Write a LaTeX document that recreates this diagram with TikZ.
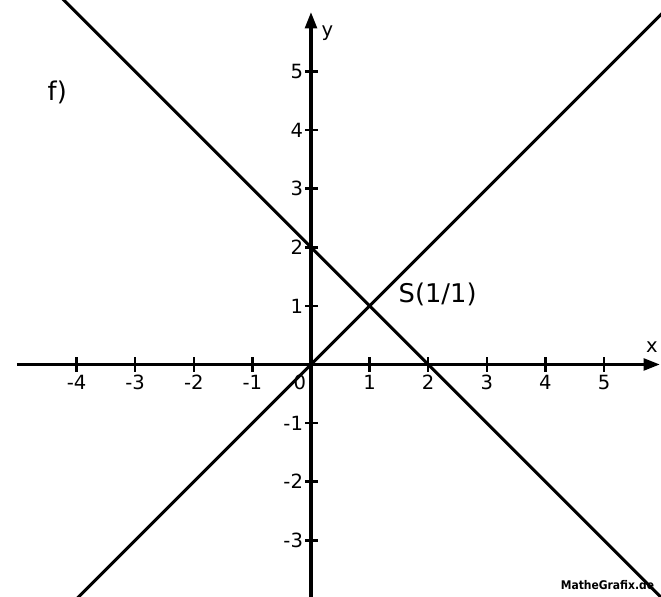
\documentclass[tikz,border=0pt]{standalone}
\usepackage{fontspec}
\setmainfont{DejaVu Sans}
\newfontfamily\condbold{DejaVu Sans Condensed Bold}
\usetikzlibrary{arrows.meta}
\begin{document}
\begin{tikzpicture}[
  axisline/.style={line width=1.6pt,-{Triangle[length=0.28cm,width=0.2cm]}},
  graphline/.style={line width=1.45pt},
  tickmark/.style={line width=1.2pt},
  ticklabel/.style={font=\fontsize{9.5}{11}\selectfont,inner sep=0pt},
  biglabel/.style={font=\fontsize{12.5}{14}\selectfont,inner sep=0pt}
]
\useasboundingbox (-5.307,-3.968) rectangle (5.973,6.22);
\begin{scope}
\clip (-5.307,-3.968) rectangle (5.973,6.22);
% graphs
\coordinate (g1a) at (-4.2,-4.2);
\coordinate (g1b) at (6.3,6.3);
\coordinate (g2a) at (-4.3,6.3);
\coordinate (g2b) at (6.2,-4.2);
\draw[graphline] (g1a) -- (g1b);
\draw[graphline] (g2a) -- (g2b);
% axes
\coordinate (xs) at (-5.02,0);
\coordinate (xe) at (5.955,0);
\coordinate (ys) at (0,-4.1);
\coordinate (ye) at (0,6.015);
\draw[axisline] (xs) -- (xe);
\draw[axisline] (ys) -- (ye);
\end{scope}
% x ticks
\foreach \k in {-4,-3,-2,-1,1,2,3,4,5}{
  \draw[tickmark] (\k,-0.12) -- (\k,0.12);
  \node[ticklabel,anchor=north] (xl\k) at (\k,-0.17) {\k};
}
\node[ticklabel,anchor=north] (xl0) at (-0.19,-0.17) {0};
% y ticks
\foreach \k in {-3,-2,-1,1,2,3,4,5}{
  \draw[tickmark] (-0.1,\k) -- (0.12,\k);
  \node[ticklabel,anchor=east] (yl\k) at (-0.13,\k) {\k};
}
\node[ticklabel] (xlab) at (5.82,0.30) {x};
\node[ticklabel] (ylab) at (0.28,5.66) {y};
\node[biglabel,anchor=west] (S) at (1.49,1.19) {S(1/1)};
\node[biglabel] (f) at (-4.33,4.65) {f)};
\node[inner sep=0pt,font=\condbold\fontsize{5.8}{7}\selectfont] (mg) at (5.06,-3.76) {MatheGrafix.de};
\end{tikzpicture}
\end{document}
